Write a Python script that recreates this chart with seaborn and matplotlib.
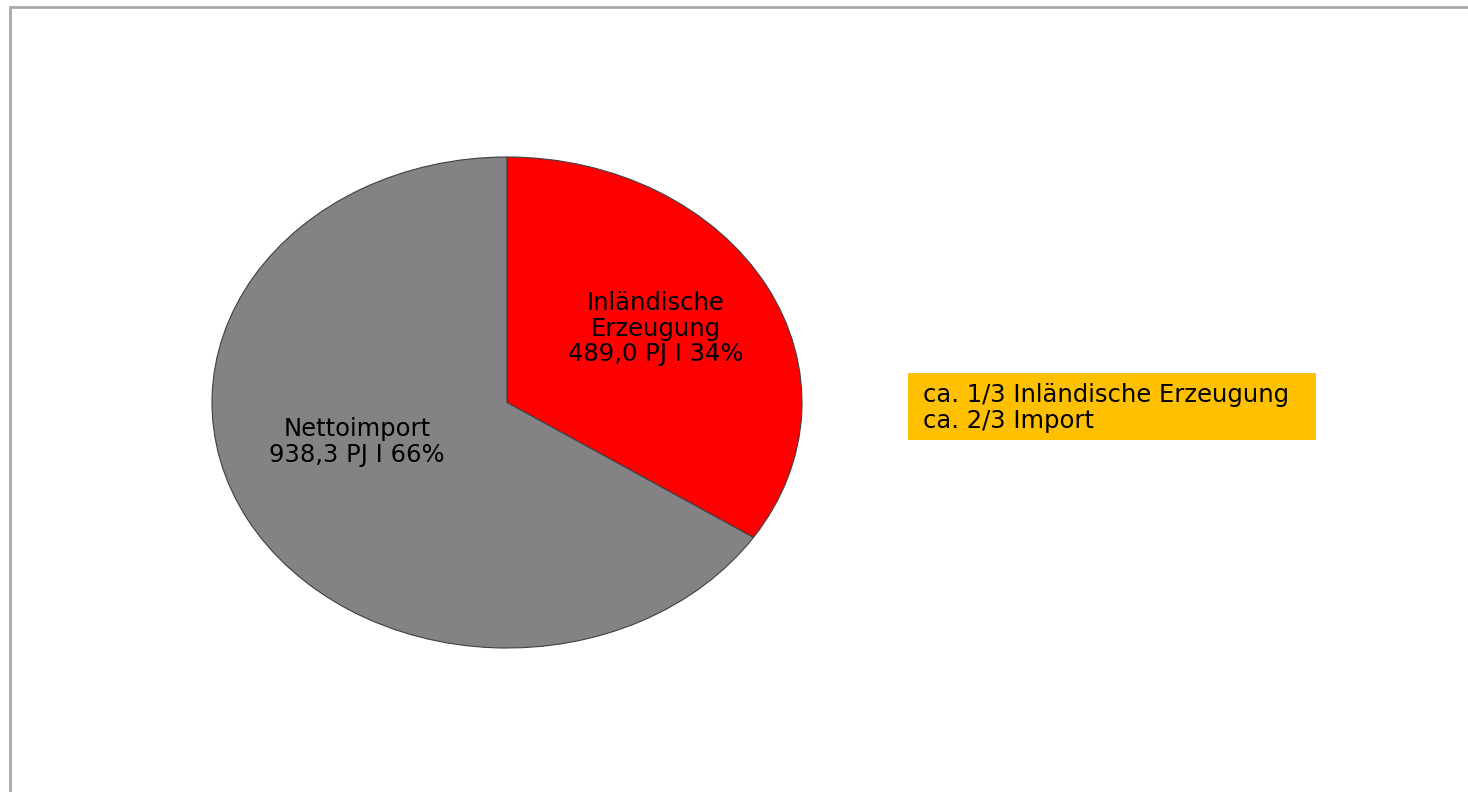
import matplotlib
matplotlib.use("Agg")
import matplotlib.pyplot as plt
from matplotlib.patches import Rectangle
import seaborn as sns

categories = ["Inländische Erzeugung", "Nettoimport"]
label_texts = ["Inländische\nErzeugung\n489,0 PJ I 34%", "Nettoimport\n938,3 PJ I 66%"]
values_pj = [489.0, 938.3]
colors = ["#ff0000", "#848284"]
note_lines = ["ca. 1/3 Inländische Erzeugung", "ca. 2/3 Import"]

sns.set_theme(style="white")
plt.rcParams['font.family'] = ['DejaVu Sans']

W, H = 1468, 792
fig = plt.figure(figsize=(W / 100, H / 100), dpi=100)
fig.patch.set_facecolor("white")

# frame line (left & top)
fig.add_artist(plt.Line2D([9.5 / W, 9.5 / W], [0, 1 - 6.5 / H], transform=fig.transFigure,
                          color="#a8a8a8", lw=2))
fig.add_artist(plt.Line2D([9.5 / W, 1], [1 - 6.5 / H, 1 - 6.5 / H], transform=fig.transFigure,
                          color="#a8a8a8", lw=2))

x0, x1, y0, y1 = 212, 802, 157, 648
ax = fig.add_axes([x0 / W, 1 - y1 / H, (x1 - x0) / W, (y1 - y0) / H])
wedges, _ = ax.pie(values_pj, colors=colors, startangle=90, counterclock=False,
                   wedgeprops=dict(edgecolor="#404040", linewidth=0.8))
ax.set_aspect("auto")
ax.set_xlim(-1, 1)
ax.set_ylim(-1, 1)
ax.axis("off")

label_pos = [(0.505, 0.30), (-0.508, -0.16)]
for (lx, ly), t in zip(label_pos, label_texts):
    ax.text(lx, ly, t, ha="center", va="center", fontsize=17.5, color="black",
            linespacing=1.08)

# note box
bx0, bx1, by0, by1 = 908, 1316, 373, 440
fig.add_artist(Rectangle((bx0 / W, 1 - by1 / H), (bx1 - bx0) / W, (by1 - by0) / H,
                         transform=fig.transFigure, facecolor="#ffc000", edgecolor="none"))
fig.text(923 / W, 1 - 408 / H, "\n".join(note_lines), ha="left", va="center",
         fontsize=17.5, color="black", linespacing=1.08)

fig.savefig("out.png", dpi=100, facecolor="white")
